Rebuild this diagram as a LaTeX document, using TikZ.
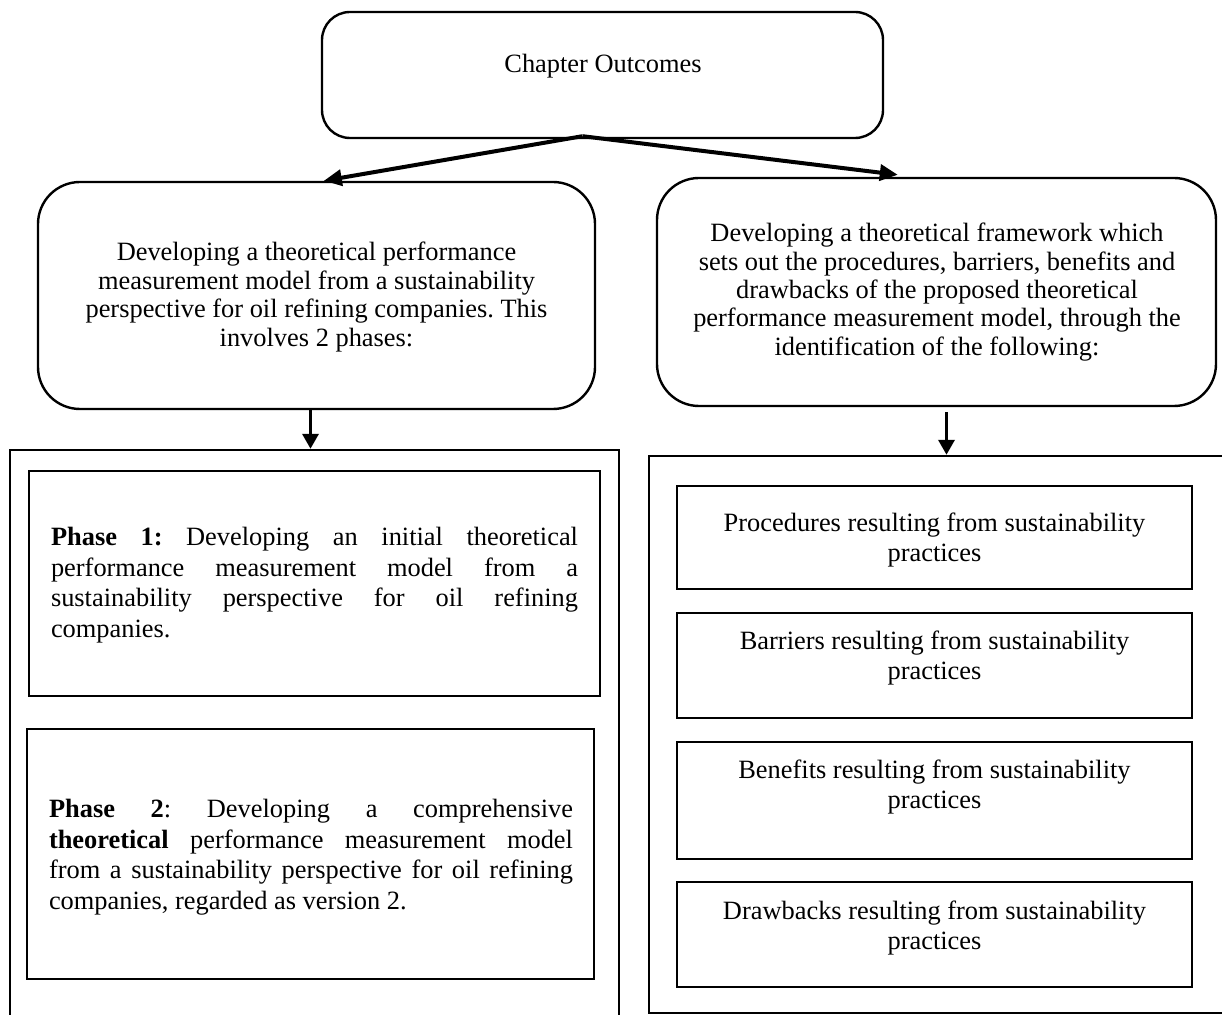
\documentclass[tikz,border=0pt]{standalone}
\usepackage{fontspec}
\setmainfont{Liberation Serif}
\usetikzlibrary{arrows.meta,fit,calc}
\frenchspacing
\begin{document}
\begin{tikzpicture}[x=0.5pt,y=-0.5pt,
  frame/.style={draw=black, line width=1.2pt, inner sep=0pt},
  roundframe/.style={frame, rounded corners=21pt},
  txt/.style={inner sep=0pt, align=center, font=\fontsize{13.2}{14.2}\selectfont},
  itemtxt/.style={txt, font=\fontsize{13.2}{15}\selectfont},
  phasetxt/.style={inner sep=0pt, align=justify, font=\fontsize{13.2}{15.3}\selectfont},
  arr/.style={-{Triangle[length=9pt,width=8pt]}, line width=2pt},
  darr/.style={-{Triangle[length=7.5pt,width=8pt]}, line width=1.7pt}
]
\clip (0,0) rectangle (1222,1015);
\fill[white] (0,0) rectangle (1222,1015);

% top level
\node[roundframe, rounded corners=14pt, fit={(322,12) (883,138)}] (top) {};
\node[txt] (toptext) at (603,66) {Chapter Outcomes};

% second level
\node[roundframe, fit={(38,182) (595,409)}] (lbox) {};
\node[txt] (ltext) at (316.5,297) {Developing a theoretical performance\\
  measurement model from a sustainability\\
  perspective for oil refining companies. This\\
  involves 2 phases:};

\node[roundframe, fit={(657,178) (1216,406)}] (rbox) {};
\node[txt] (rtext) at (937,292) {Developing a theoretical framework which\\
  sets out the procedures, barriers, benefits and\\
  drawbacks of the proposed theoretical\\
  performance measurement model, through the\\
  identification of the following:};

% group frames
\node[frame, fit={(10,450) (619,1040)}] (lgroup) {};
\node[frame, fit={(649,456) (1240,1013)}] (rgroup) {};

% phases
\node[frame, fit={(29,471) (600,696)}] (phase1) {};
\node[phasetxt, text width=263.5pt] (phase1text) at (314.5,585) {\textbf{Phase 1:} Developing an initial theoretical\linebreak
  performance measurement model from a\linebreak
  sustainability perspective for oil refining\linebreak
  companies.};

\node[frame, fit={(27,729) (594,979)}] (phase2) {};
\node[phasetxt, text width=262pt] (phase2text) at (311,857) {\textbf{Phase 2}: Developing a comprehensive\linebreak
  \textbf{theoretical} performance measurement model\linebreak
  from a sustainability perspective for oil refining\linebreak
  companies, regarded as version 2.};

% identified items
\node[frame, fit={(677,486) (1192,589)}] (proc) {};
\node[itemtxt] (proctext) at (934.5,540) {Procedures resulting from sustainability\\practices};
\node[frame, fit={(677,613) (1192,718)}] (barr) {};
\node[itemtxt] (barrtext) at (934.5,658) {Barriers resulting from sustainability\\practices};
\node[frame, fit={(677,742) (1192,859)}] (bene) {};
\node[itemtxt] (benetext) at (934.5,787) {Benefits resulting from sustainability\\practices};
\node[frame, fit={(677,882) (1192,987)}] (drwb) {};
\node[itemtxt] (drwbtext) at (934.5,928) {Drawbacks resulting from sustainability\\practices};

% connectors
\coordinate (split) at ($(top.south)+(-20,-3)$);
\draw[arr] (split) -- ($(lbox.north west)+(287,0)$);
\draw[arr] (split) -- ($(rbox.north west)+(242,-2)$);

\coordinate (la) at ($(lbox.south)+(-6,0)$);
\draw[darr] (la) -- (la |- lgroup.north);
\coordinate (ra) at ($(rbox.south)+(10,5)$);
\draw[darr] (ra) -- (ra |- rgroup.north);
\end{tikzpicture}
\end{document}
